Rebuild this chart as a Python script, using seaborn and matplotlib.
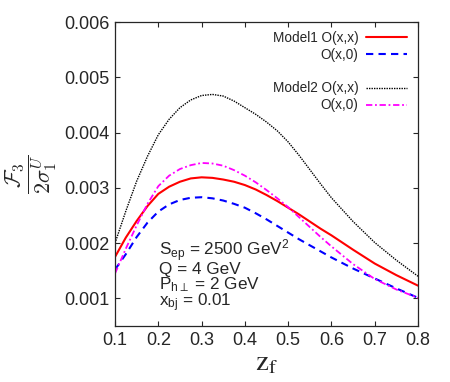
import numpy as np
import pandas as pd
import matplotlib
matplotlib.use("Agg")
import matplotlib.pyplot as plt
import seaborn as sns
from matplotlib.lines import Line2D

# ---- data ----
z_f = [0.1, 0.125, 0.15, 0.175, 0.2, 0.225, 0.25, 0.275, 0.3, 0.325, 0.35, 0.375, 0.4,
       0.425, 0.45, 0.475, 0.5, 0.525, 0.55, 0.575, 0.6, 0.65, 0.7, 0.75, 0.8]
model1_xx = [0.00175, 0.00210, 0.00240, 0.00267, 0.00289, 0.00302, 0.00311, 0.00317, 0.00319,
             0.00318, 0.00315, 0.00311, 0.00305, 0.00297, 0.00287, 0.00276, 0.00264, 0.00252,
             0.00239, 0.00226, 0.00214, 0.00188, 0.00163, 0.00142, 0.00123]
model1_x0 = [0.00152, 0.00180, 0.00211, 0.00237, 0.00257, 0.00270, 0.00278, 0.00282, 0.00283,
             0.00281, 0.00277, 0.00271, 0.00264, 0.00254, 0.00243, 0.00231, 0.00219, 0.00207,
             0.00196, 0.00185, 0.00174, 0.00154, 0.00136, 0.00118, 0.00101]
model2_xx = [0.00200, 0.00258, 0.00312, 0.00357, 0.00396, 0.00424, 0.00445, 0.00459, 0.00467,
             0.00469, 0.00466, 0.00457, 0.00445, 0.00433, 0.00419, 0.00403, 0.00383, 0.00359,
             0.00333, 0.00307, 0.00282, 0.00239, 0.00201, 0.00169, 0.00140]
model2_x0 = [0.00145, 0.00190, 0.00232, 0.00271, 0.00303, 0.00322, 0.00334, 0.00341, 0.00345,
             0.00344, 0.00340, 0.00332, 0.00322, 0.00310, 0.00296, 0.00281, 0.00265, 0.00247,
             0.00229, 0.00211, 0.00194, 0.00162, 0.00135, 0.00116, 0.00101]
series_labels = ["Model1 O(x,x)", "O(x,0)", "Model2 O(x,x)", "O(x,0)"]
x_ticks = [0.1, 0.2, 0.3, 0.4, 0.5, 0.6, 0.7, 0.8]
y_ticks = [0.001, 0.002, 0.003, 0.004, 0.005, 0.006]
info_lines = [r"S$_{\rm ep}$ = 2500 GeV$^{2}$", r"Q = 4 GeV",
              r"P$_{\rm h\perp}$ = 2 GeV", r"x$_{\rm bj}$ = 0.01"]

sns.set_style("ticks")
plt.rcParams["font.family"] = ["Liberation Sans", "DejaVu Sans"]
plt.rcParams["mathtext.fontset"] = "custom"
plt.rcParams["mathtext.rm"] = "Liberation Sans"
plt.rcParams["mathtext.it"] = "Liberation Sans:italic"
plt.rcParams["mathtext.bf"] = "Liberation Sans:bold"

fig = plt.figure(figsize=(4.5, 3.82), dpi=100)
ax = fig.add_axes([0.2556, 0.1466, 0.6733, 0.7958])

styles = [
    dict(color="#ff0000", lw=1.5, ls="-"),
    dict(color="#0000ff", lw=1.5, ls=(0, (3.5, 2.5))),
    dict(color="#000000", lw=1.0, ls=(0, (1, 0.8))),
    dict(color="#ff00ff", lw=1.3, ls=(0, (3.5, 1.5, 1, 1.5))),
]
all_series = [model1_xx, model1_x0, model2_xx, model2_x0]
handles = []
for vals, st in zip(all_series, styles):
    df = pd.DataFrame({"z": z_f, "v": vals})
    sns.lineplot(data=df, x="z", y="v", ax=ax, color=st["color"], linewidth=st["lw"],
                 linestyle=st["ls"], legend=False)
    handles.append(Line2D([], [], color=st["color"], lw=st["lw"], ls=st["ls"]))

blank = Line2D([], [], color="none", lw=0)
leg_handles = [handles[0], handles[1], blank, handles[2], handles[3]]
leg_labels = [series_labels[0], series_labels[1], " ", series_labels[2], series_labels[3]]
ax.legend(leg_handles, leg_labels, loc="upper right", frameon=False, markerfirst=False,
          fontsize=9.8, handlelength=3.0, handletextpad=0.55, labelspacing=0.22,
          borderaxespad=0.0, borderpad=0.0, bbox_to_anchor=(0.963, 0.972))

ax.set_xlim(0.1, 0.8)
ax.set_ylim(0.0005, 0.006)
ax.set_xticks(x_ticks)
ax.set_xticklabels([f"{v:.1f}" for v in x_ticks])
ax.set_yticks(y_ticks)
ax.set_yticklabels([f"{v:.3f}" for v in y_ticks])
ax.tick_params(direction="in", length=3.5, width=0.8, top=True, right=True,
               labelsize=13, pad=4)
for s in ax.spines.values():
    s.set_linewidth(0.9)
    s.set_visible(True)

ax.set_xlabel(r"$\mathrm{z}_{\mathrm{f}}$", fontsize=21, math_fontfamily="stix", labelpad=0)
ax.set_ylabel(r"$\dfrac{\mathcal{F}_3}{2\sigma_1^U}$", fontsize=16, math_fontfamily="cm",
              labelpad=4)

ax.text(0.146, 0.29, "\n".join(info_lines), transform=ax.transAxes, fontsize=12.3,
        va="top", ha="left", linespacing=0.84)

fig.savefig("out.png", dpi=100)
